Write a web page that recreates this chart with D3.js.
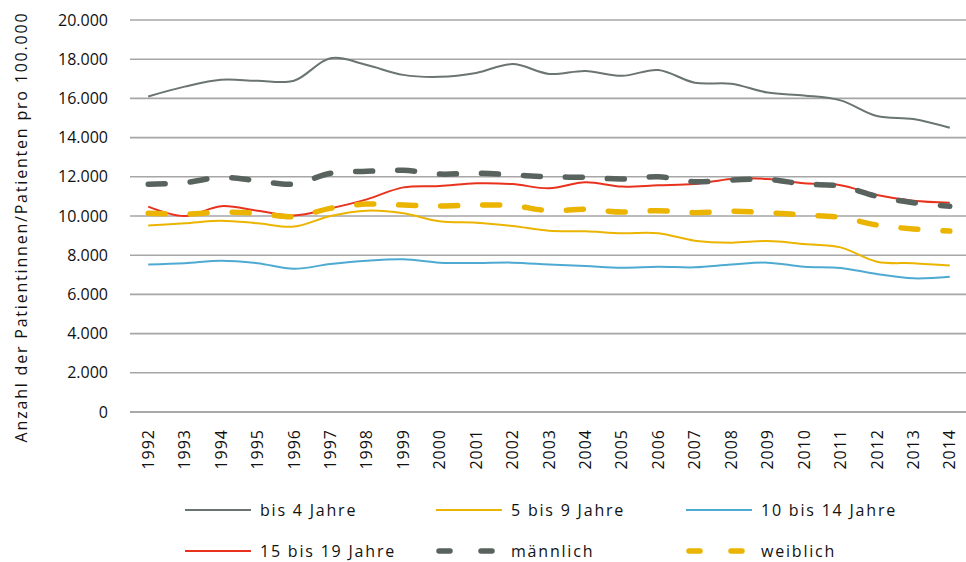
<!DOCTYPE html>
<html>
<head>
<meta charset="utf-8">
<script src="https://cdn.jsdelivr.net/npm/d3@7"></script>
<style>
  body { margin: 0; background: #fff; }
  text { font-family: "Open Sans", sans-serif; fill: #111; }
</style>
</head>
<body>
<script>
var w = 966;
var h = 562;

var years = ["1992","1993","1994","1995","1996","1997","1998","1999","2000","2001","2002","2003",
             "2004","2005","2006","2007","2008","2009","2010","2011","2012","2013","2014"];

var bis4 = [16100,16600,16950,16900,16900,18050,17700,17200,17100,17300,17750,17250,
            17400,17150,17450,16800,16750,16300,16150,15900,15100,14950,14500];
var bis9 = [9520,9630,9760,9630,9460,10000,10270,10140,9730,9660,9490,9250,
            9220,9120,9120,8740,8640,8720,8570,8400,7670,7590,7470];
var bis14 = [7530,7590,7720,7590,7310,7550,7720,7790,7620,7600,7620,7530,
             7450,7360,7410,7380,7520,7620,7410,7350,7040,6820,6900];
var bis19 = [10480,10000,10500,10270,10030,10390,10850,11460,11530,11670,11630,11410,
             11720,11500,11570,11630,11890,11890,11670,11570,11070,10780,10680];
var maennlich = [11620,11700,11970,11800,11630,12180,12280,12330,12140,12180,12100,12000,
                 11970,11890,12000,11750,11840,11870,11630,11530,11000,10680,10500];
var weiblich = [10140,10100,10190,10140,9970,10390,10610,10560,10510,10560,10530,10270,
                10340,10200,10270,10170,10240,10170,10050,9930,9540,9340,9230];

var yTicks = [0,2000,4000,6000,8000,10000,12000,14000,16000,18000,20000];

var series = [
  { name: "bis 4 Jahre", values: bis4, color: "#6b7570", width: 2, dash: null },
  { name: "5 bis 9 Jahre", values: bis9, color: "#ebb400", width: 2, dash: null },
  { name: "10 bis 14 Jahre", values: bis14, color: "#4eaad2", width: 2, dash: null },
  { name: "15 bis 19 Jahre", values: bis19, color: "#e8321e", width: 2, dash: null },
  { name: "männlich", values: maennlich, color: "#59635e", width: 5.5, dash: "17,25" },
  { name: "weiblich", values: weiblich, color: "#ebb400", width: 5.5, dash: "17,25" }
];

var svg = d3.select("body")
  .append("svg")
  .attr("width", w)
  .attr("height", h);

var x = d3.scaleBand()
  .domain(years)
  .range([130, 968]);

var y = d3.scaleLinear()
  .domain([0, 20000])
  .range([412, 20]);

var fmt = function(d) { return d === 0 ? "0" : d3.format(",")(d).replace(/,/g, "."); };

// gridlines
svg.selectAll("line.grid")
  .data(yTicks)
  .enter()
  .append("line")
  .attr("class", "grid")
  .attr("x1", 130)
  .attr("x2", 968)
  .attr("y1", function(d) { return y(d); })
  .attr("y2", function(d) { return y(d); })
  .attr("stroke", function(d) { return d === 0 ? "#8c8c8c" : "#a6a6a6"; })
  .attr("stroke-width", 1.6);

// y tick labels
svg.selectAll("text.ylab")
  .data(yTicks)
  .enter()
  .append("text")
  .attr("class", "ylab")
  .attr("x", 108)
  .attr("y", function(d) { return y(d); })
  .attr("dy", "0.35em")
  .attr("text-anchor", "end")
  .attr("font-size", "16px")
  .text(fmt);

// x tick labels
svg.selectAll("text.xlab")
  .data(years)
  .enter()
  .append("text")
  .attr("class", "xlab")
  .attr("transform", function(d) {
    return "translate(" + (x(d) + x.bandwidth() / 2) + ",429) rotate(-90)";
  })
  .attr("dy", "0.35em")
  .attr("text-anchor", "end")
  .attr("font-size", "16px")
  .attr("letter-spacing", "1px")
  .text(function(d) { return d; });

// y axis title
svg.append("text")
  .attr("transform", "translate(21,227) rotate(-90)")
  .attr("text-anchor", "middle")
  .attr("dy", "0.35em")
  .attr("font-size", "16px")
  .attr("letter-spacing", "1.8px")
  .text("Anzahl der Patientinnen/Patienten pro 100.000");

var line = d3.line()
  .x(function(d, i) { return x(years[i]) + x.bandwidth() / 2; })
  .y(function(d) { return y(d); })
  .curve(d3.curveCatmullRom.alpha(0.5));

svg.selectAll("path.series")
  .data(series)
  .enter()
  .append("path")
  .attr("class", "series")
  .attr("d", function(d) { return line(d.values); })
  .attr("fill", "none")
  .attr("stroke", function(d) { return d.color; })
  .attr("stroke-width", function(d) { return d.width; })
  .attr("stroke-dasharray", function(d) { return d.dash; })
  .attr("stroke-linecap", function(d) { return d.dash ? "round" : "butt"; });

// legend
var legendX = [185, 436, 686];
var legendY = [510, 551];

var leg = svg.selectAll("g.legend")
  .data(series)
  .enter()
  .append("g")
  .attr("class", "legend")
  .attr("transform", function(d, i) {
    return "translate(" + legendX[i % 3] + "," + legendY[Math.floor(i / 3)] + ")";
  });

leg.append("line")
  .attr("x1", function(d) { return d.dash ? 3 : 0; })
  .attr("x2", 66)
  .attr("y1", 0)
  .attr("y2", 0)
  .attr("stroke", function(d) { return d.color; })
  .attr("stroke-width", function(d) { return d.width; })
  .attr("stroke-dasharray", function(d) { return d.dash ? "11,31" : null; })
  .attr("stroke-linecap", function(d) { return d.dash ? "round" : "butt"; });

leg.append("text")
  .attr("x", 75)
  .attr("y", 0)
  .attr("dy", "0.35em")
  .attr("font-size", "16px")
  .attr("letter-spacing", "1.8px")
  .text(function(d) { return d.name; });
</script>
</body>
</html>
